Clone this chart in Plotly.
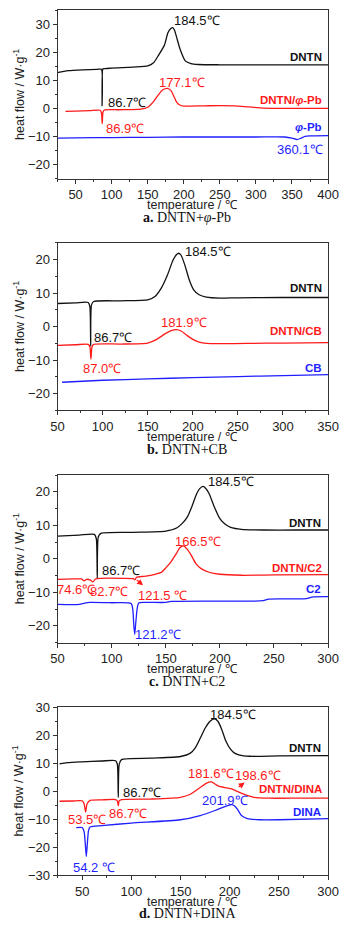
import plotly.graph_objects as go

# ---------------- data (temperature °C, heat flow W/g) ----------------
# Panel a: DNTN + φ-Pb
a_dntn_x = [25, 30, 40, 60, 80, 85.8, 86.7, 87.6, 89, 100, 130, 150, 158, 165, 173, 178, 182, 184.5, 187, 191, 195, 202, 210, 220, 250, 300, 350, 400]
a_dntn_y = [12.8, 13.1, 13.5, 13.8, 14.0, 14.0, 1.0, 14.0, 14.2, 14.4, 14.8, 15.2, 16.3, 19.0, 22.5, 27.0, 28.5, 28.8, 28.0, 24.5, 21.0, 17.0, 16.0, 15.7, 15.6, 15.6, 15.6, 15.6]
a_mix_x = [36, 50, 70, 84, 85.8, 86.9, 88, 90, 110, 140, 150, 158, 165, 171, 177.1, 182, 186, 190, 195, 200, 210, 230, 250, 270, 290, 310, 350, 400]
a_mix_y = [-1.0, -0.9, -0.7, -0.6, -1.5, -5.3, -1.2, -0.5, -0.4, -0.2, 0.5, 2.5, 5.0, 6.7, 7.2, 6.5, 4.5, 2.3, 1.2, 0.9, 0.9, 1.0, 1.1, 1.0, 0.6, 0.2, 0.1, 0.1]
a_add_x = [25, 50, 100, 150, 200, 250, 300, 340, 350, 357, 362, 368, 375, 400]
a_add_y = [-10.5, -10.4, -10.3, -10.2, -10.1, -10.1, -10.1, -10.1, -10.5, -11.0, -10.6, -9.9, -9.7, -9.6]

# Panel b: DNTN + CB
b_dntn_x = [50, 70, 84, 85.8, 86.7, 87.6, 90, 120, 150, 158, 165, 172, 178, 182, 184.5, 187, 191, 196, 201, 207, 215, 230, 250, 300, 350]
b_dntn_y = [6.9, 7.1, 7.2, 6.0, -5.8, 6.5, 7.5, 7.7, 8.0, 9.0, 11.5, 15.5, 19.8, 21.5, 21.9, 21.3, 18.5, 14.0, 11.0, 9.5, 8.8, 8.5, 8.6, 8.7, 8.7]
b_mix_x = [50, 70, 84, 85.8, 87.0, 88.2, 90, 120, 150, 160, 170, 176, 181.9, 187, 193, 200, 207, 215, 230, 260, 300, 350]
b_mix_y = [-5.6, -5.4, -5.3, -6.0, -9.7, -6.0, -5.3, -5.2, -4.9, -3.8, -2.0, -1.2, -0.9, -1.3, -2.5, -3.8, -4.6, -5.0, -5.1, -5.0, -4.9, -4.8]
b_add_x = [55, 100, 150, 200, 250, 300, 350]
b_add_y = [-16.6, -16.0, -15.6, -15.2, -14.9, -14.6, -14.3]

# Panel c: DNTN + C2
c_dntn_x = [50, 70, 84, 85.8, 86.7, 87.6, 90, 120, 150, 160, 165, 170, 174, 178, 181, 184.5, 187, 190, 195, 200, 205, 210, 220, 240, 270, 300]
c_dntn_y = [6.8, 7.1, 7.3, 6.0, -5.9, 6.5, 7.6, 7.9, 8.3, 9.2, 10.5, 12.5, 15.5, 19.0, 20.8, 21.6, 21.0, 19.5, 15.4, 12.0, 10.3, 9.4, 8.8, 8.6, 8.6, 8.6]
c_mix_x = [50, 65, 72, 74.6, 77, 80, 82.7, 85, 90, 110, 120, 121.5, 123, 130, 140, 146, 150, 155, 160, 163, 166.5, 170, 174, 178, 183, 190, 200, 220, 250, 300]
c_mix_y = [-6.1, -6.0, -6.0, -6.6, -6.1, -6.3, -6.9, -6.0, -5.8, -5.8, -5.9, -6.3, -5.5, -5.2, -4.6, -4.0, -2.7, -0.8, 1.7, 3.3, 3.9, 2.8, 0.8, -1.5, -3.0, -4.0, -4.6, -4.9, -4.8, -4.7]
c_add_x = [50, 70, 75, 80, 100, 118, 119.5, 120.5, 121.3, 122.3, 123.5, 125, 130, 150, 155, 200, 240, 245, 280, 285, 300]
c_add_y = [-13.6, -13.6, -13.2, -13.0, -13.1, -13.3, -15.0, -20.0, -22.5, -19.0, -15.0, -13.2, -13.0, -13.0, -12.7, -12.6, -12.5, -12.0, -11.9, -11.4, -11.3]

# Panel d: DNTN + DINA
d_dntn_x = [27, 35, 50, 70, 84, 85.8, 86.7, 87.6, 90, 120, 150, 160, 165, 170, 175, 180, 184.5, 188, 192, 196, 200, 205, 210, 220, 250, 300]
d_dntn_y = [9.8, 10.2, 10.5, 10.8, 10.9, 9.5, -2.2, 9.5, 11.3, 11.8, 12.4, 13.6, 15.5, 18.9, 22.5, 25.0, 25.9, 25.0, 22.0, 18.0, 15.4, 13.6, 12.9, 12.5, 12.6, 12.7]
d_mix_x = [27, 40, 50, 52, 53.5, 55, 58, 70, 84, 85.8, 86.7, 87.6, 90, 120, 150, 160, 170, 176, 181.6, 185, 188, 195, 198.6, 202, 205, 210, 215, 225, 240, 270, 300]
d_mix_y = [-3.6, -3.5, -3.4, -4.5, -7.5, -4.5, -3.3, -3.1, -3.0, -3.5, -5.2, -3.5, -3.0, -2.8, -2.2, -1.1, 1.3, 2.8, 3.3, 2.6, 1.9, 1.3, 1.1, 0.8, 0.35, -0.4, -1.1, -2.2, -2.5, -2.5, -2.5]
d_add_x = [44, 50, 52, 53.2, 54.2, 55.2, 56.5, 58, 70, 100, 150, 170, 185, 195, 201.9, 205, 208, 212, 218, 230, 250, 300]
d_add_y = [-13.0, -13.0, -14.5, -19.0, -23.3, -19.0, -14.0, -12.8, -12.3, -11.4, -10.2, -8.7, -6.9, -5.5, -4.8, -5.3, -6.5, -8.7, -9.8, -10.2, -10.2, -9.8]

x_ranges = [[25, 400], [50, 350], [50, 300], [25, 300]]
y_ranges = [[-25, 35], [-25, 25], [-25, 25], [-30, 30]]
series_names = [["DNTN", "DNTN/φ-Pb", "φ-Pb"], ["DNTN", "DNTN/CB", "CB"],
                ["DNTN", "DNTN/C2", "C2"], ["DNTN", "DNTN/DINA", "DINA"]]
captions = ["<b>a.</b> DNTN+<i>φ</i>-Pb", "<b>b.</b> DNTN+CB", "<b>c.</b> DNTN+C2", "<b>d.</b> DNTN+DINA"]
x_title = "temperature / ℃"
y_title = "heat flow / W·g<sup>-1</sup>"

BLACK, RED, BLUE = "#111111", "#ff1a1a", "#1f1fff"
W, H = 353, 934
# pixel boxes of the four plot areas (top, bottom)
boxes = [(3.3, 174.7), (239.7, 410.0), (475.7, 646.0), (711.7, 882.3)]
XL, XR = 53.3, 338.3

curves = [
    [(a_dntn_x, a_dntn_y), (a_mix_x, a_mix_y), (a_add_x, a_add_y)],
    [(b_dntn_x, b_dntn_y), (b_mix_x, b_mix_y), (b_add_x, b_add_y)],
    [(c_dntn_x, c_dntn_y), (c_mix_x, c_mix_y), (c_add_x, c_add_y)],
    [(d_dntn_x, d_dntn_y), (d_mix_x, d_mix_y), (d_add_x, d_add_y)],
]
colors = [BLACK, RED, BLUE]

fig = go.Figure()
TICKFONT = dict(family="Liberation Sans Narrow, Liberation Sans, Arial", size=13, color="#222")
TITLEFONT = dict(family="Liberation Sans Narrow, Liberation Sans, Arial", size=12.5, color="#222")

for i in range(4):
    sfx = "" if i == 0 else str(i + 1)
    for j, (xs, ys) in enumerate(curves[i]):
        fig.add_trace(go.Scatter(x=xs, y=ys, mode="lines", name=series_names[i][j],
                                 line=dict(color=colors[j], width=1.3, shape="spline", smoothing=0.6),
                                 xaxis="x" + sfx, yaxis="y" + sfx, showlegend=False))
    top, bot = boxes[i]
    common = dict(showline=True, mirror=True, linecolor="#333", linewidth=1,
                  ticks="outside", ticklen=4, tickwidth=1, tickcolor="#333",
                  showgrid=False, zeroline=False, tickfont=TICKFONT)
    fig.layout["xaxis" + sfx] = dict(
        common, domain=[XL / W, XR / W], range=x_ranges[i], anchor="y" + sfx,
        dtick=50, minor=dict(ticks="outside", ticklen=2, dtick=25, tickcolor="#333"))
    fig.layout["yaxis" + sfx] = dict(
        common, domain=[1 - bot / H, 1 - top / H], range=y_ranges[i], anchor="x" + sfx,
        dtick=10, minor=dict(ticks="outside", ticklen=2, dtick=5, tickcolor="#333"))
    # axis titles
    fig.add_annotation(x=(XL + XR) / 2 / W, y=1 - (bot + 27) / H, xref="paper", yref="paper",
                       text=x_title, showarrow=False, xanchor="center", yanchor="middle",
                       font=TITLEFONT)
    fig.add_annotation(x=12 / W, y=1 - (top + bot) / 2 / H, xref="paper", yref="paper",
                       text=y_title, showarrow=False, xanchor="center", yanchor="middle",
                       textangle=-90, font=TITLEFONT)
    # caption
    fig.add_annotation(x=190 / W, y=1 - (bot + 39.5) / H, xref="paper", yref="paper",
                       text=captions[i], showarrow=False, xanchor="center", yanchor="middle",
                       font=dict(family="Liberation Serif, DejaVu Serif", size=14, color="#111"))

# peak / label annotations: (panel, x, y, text, color, xanchor, bold)
labels = [
    (0, 184, 31.2, "184.5℃", BLACK, "left", False),
    (0, 91.8, 2.3, "86.7℃", BLACK, "left", False),
    (0, 198, 9.4, "177.1℃", RED, "center", False),
    (0, 88.8, -6.9, "86.9℃", RED, "left", False),
    (0, 361, -14.4, "360.1℃", BLUE, "center", False),
    (0, 394, 18.2, "DNTN", BLACK, "right", True),
    (0, 395, 2.9, "DNTN/<i>φ</i>-Pb", RED, "right", True),
    (0, 395, -6.5, "<i>φ</i>-Pb", BLUE, "right", True),
    (1, 188.6, 22.4, "184.5℃", BLACK, "left", False),
    (1, 87.9, -3.3, "86.7℃", BLACK, "left", False),
    (1, 190, 1.1, "181.9℃", RED, "center", False),
    (1, 99.5, -12.4, "87.0℃", RED, "center", False),
    (1, 345, 11.4, "DNTN", BLACK, "right", True),
    (1, 346, -1.4, "DNTN/CB", RED, "right", True),
    (1, 345, -12.2, "CB", BLUE, "right", True),
    (2, 186.8, 23.0, "184.5℃", BLACK, "left", False),
    (2, 89, -3.6, "86.7℃", BLACK, "left", False),
    (2, 180.2, 5.2, "166.5℃", RED, "center", False),
    (2, 67.0, -9.2, "74.6℃", RED, "center", False),
    (2, 97.8, -9.8, "82.7℃", RED, "center", False),
    (2, 147.1, -10.8, "121.5 ℃", RED, "center", False),
    (2, 142.9, -22.5, "121.2℃", BLUE, "center", False),
    (2, 295.6, 10.7, "DNTN", BLACK, "right", True),
    (2, 296.5, -2.7, "DNTN/C2", RED, "right", True),
    (2, 295.6, -9.0, "C2", BLUE, "right", True),
    (3, 177.5, 27.3, "184.5℃", BLACK, "left", False),
    (3, 89.4, -0.5, "86.7℃", BLACK, "left", False),
    (3, 180.7, 6.2, "181.6℃", RED, "center", False),
    (3, 228.3, 5.7, "198.6℃", RED, "center", False),
    (3, 54.8, -10.2, "53.5℃", RED, "center", False),
    (3, 96.3, -8.1, "86.7℃", RED, "center", False),
    (3, 195.5, -3.2, "201.9℃", BLUE, "center", False),
    (3, 61.6, -27.1, "54.2 ℃", BLUE, "center", False),
    (3, 295.2, 15.4, "DNTN", BLACK, "right", True),
    (3, 296.0, 0.7, "DNTN/DINA", RED, "right", True),
    (3, 295.2, -7.5, "DINA", BLUE, "right", True),
]
for (p, x, y, t, c, xa, bold) in labels:
    sfx = "" if p == 0 else str(p + 1)
    if bold:
        f = dict(family="Liberation Sans, Arial", size=11.5, color=c)
        t = "<b>" + t + "</b>"
    else:
        f = dict(family="Liberation Sans Narrow, Liberation Sans, Arial", size=13, color=c)
    fig.add_annotation(x=x, y=y, xref="x" + sfx, yref="y" + sfx, text=t, showarrow=False,
                       xanchor=xa, yanchor="middle", font=f)

# small arrows
fig.add_annotation(x=129, y=-7.9, ax=121.7, ay=-5.9, xref="x3", yref="y3", axref="x3", ayref="y3",
                   showarrow=True, arrowhead=2, arrowsize=1, arrowwidth=1.2, arrowcolor=RED, text="")
fig.add_annotation(x=215.2, y=3.1, ax=207.5, ay=1.05, xref="x4", yref="y4", axref="x4", ayref="y4",
                   showarrow=True, arrowhead=2, arrowsize=1, arrowwidth=1.2, arrowcolor=RED, text="")

fig.update_layout(width=W, height=H, margin=dict(l=0, r=0, t=0, b=0),
                  paper_bgcolor="white", plot_bgcolor="white", showlegend=False)
fig.write_html("out.html")
